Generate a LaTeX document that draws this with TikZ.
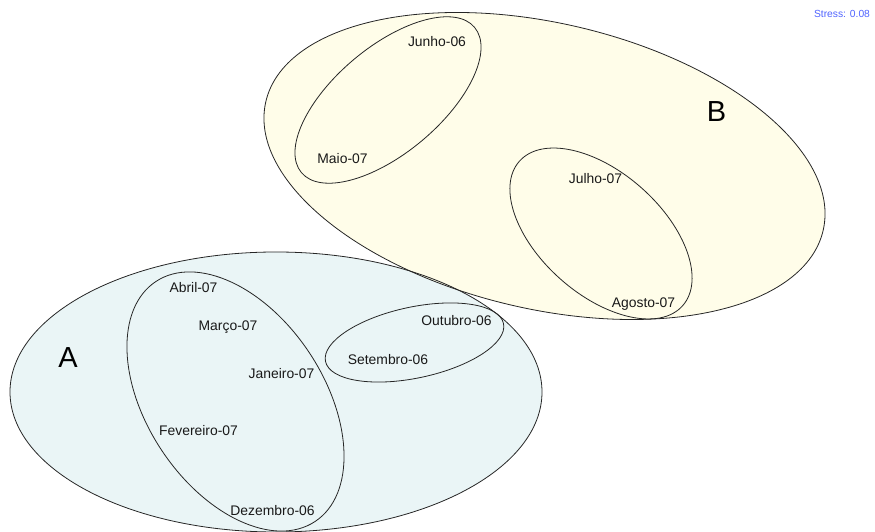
\documentclass[tikz,border=0pt]{standalone}
\usepackage{fontspec}
\setmainfont{Liberation Sans}
\usetikzlibrary{positioning}

\definecolor{fillA}{RGB}{234,245,246}
\definecolor{fillB}{RGB}{255,253,233}
\definecolor{stressblue}{RGB}{80,100,255}

\begin{document}
\begin{tikzpicture}[
  x=1pt, y=1pt,
  outline/.style={draw=black!85, line width=0.8pt},
  month/.style={font=\fontsize{13.9}{15}\selectfont, text=black!90, inner sep=0pt},
  grouptag/.style={font=\fontsize{29}{32}\selectfont, inner sep=0pt}
]
\useasboundingbox (0,0) rectangle (875,532);

% group centres
\coordinate (cA) at (276,140);
\coordinate (cA1) at (235.5,130.5);
\coordinate (cA2) at (414.5,189.5);
\coordinate (cB) at (544.5,366);
\coordinate (cB1) at (388,432);
\coordinate (cB2) at (601,298.5);

% fills
\fill[fillA] (cA) ellipse [x radius=266, y radius=140];
\fill[fillB, rotate around={-13:(cB)}] (cB) ellipse [x radius=286, y radius=143];

% outlines
\draw[outline] (cA) ellipse [x radius=266, y radius=140];
\draw[outline, rotate around={-13:(cB)}] (cB) ellipse [x radius=286, y radius=143];
\draw[outline, rotate around={-56.4:(cA1)}] (cA1) ellipse [x radius=144, y radius=88.5];
\draw[outline, rotate around={12:(cA2)}] (cA2) ellipse [x radius=91, y radius=35.5];
\draw[outline, rotate around={40:(cB1)}] (cB1) ellipse [x radius=113, y radius=53];
\draw[outline, rotate around={-41.5:(cB2)}] (cB2) ellipse [x radius=109, y radius=61];

% labels
\node[month] (jun06) at (437,490) {Junho-06};
\node[month] (mai07) at (342.5,373) {Maio-07};
\node[month] (jul07) at (595.5,353) {Julho-07};
\node[month] (ago07) at (643.5,228) {Agosto-07};
\node[month] (abr07) at (193.5,244) {Abril-07};
\node[month] (mar07) at (228,205) {Março-07};
\node[month] (out06) at (456.5,211) {Outubro-06};
\node[month] (set06) at (388,172) {Setembro-06};
\node[month] (jan07) at (281.5,158) {Janeiro-07};
\node[month] (fev07) at (198.5,101) {Fevereiro-07};
\node[month] (dez06) at (272.5,21) {Dezembro-06};
\node[grouptag] (tagA) at (68,174) {A};
\node[grouptag] (tagB) at (716.5,420.5) {B};
\node[font=\fontsize{10.3}{11}\selectfont, text=stressblue, inner sep=0pt] (stress) at (842,518) {Stress: 0.08};
\end{tikzpicture}
\end{document}
